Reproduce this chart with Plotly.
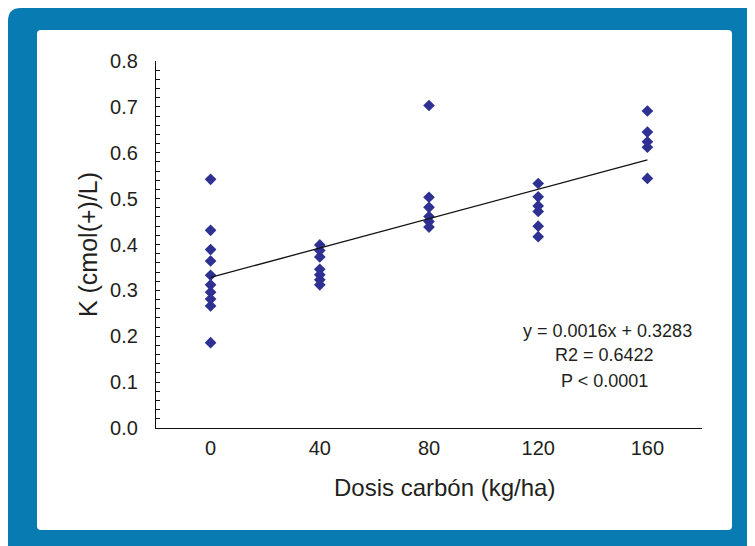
import plotly.graph_objects as go

# ---- data ----
doses = [0, 40, 80, 120, 160]
k_dose_0 = [0.542, 0.431, 0.389, 0.364, 0.333, 0.312, 0.296, 0.281, 0.266, 0.186]
k_dose_40 = [0.399, 0.387, 0.373, 0.346, 0.334, 0.323, 0.312]
k_dose_80 = [0.703, 0.503, 0.481, 0.461, 0.450, 0.438]
k_dose_120 = [0.533, 0.504, 0.484, 0.472, 0.440, 0.417]
k_dose_160 = [0.691, 0.645, 0.624, 0.612, 0.544]
trend_slope = 0.0016
trend_intercept = 0.3283
eq_lines = ["y = 0.0016x + 0.3283", "R2 = 0.6422", "P < 0.0001"]
y_ticks = [0.0, 0.1, 0.2, 0.3, 0.4, 0.5, 0.6, 0.7, 0.8]

groups = [k_dose_0, k_dose_40, k_dose_80, k_dose_120, k_dose_160]
xs, ys = [], []
for d, vals in zip(doses, groups):
    xs += [d] * len(vals)
    ys += vals

trend_x = [doses[0], doses[-1]]
trend_y = [trend_slope * x + trend_intercept for x in trend_x]

# ---- layout helpers (screen pixel -> paper); page body offset is 8px ----
OFF = 8
W, H = 755, 546
L, R, T, B = 148, 61, 53, 126
PW, PH = W - L - R, H - T - B


def px_x(px):
    return (px - OFF - L) / PW


def px_y(py):
    return (H - B - (py - OFF)) / PH


def rounded_rect(x0p, y0p, x1p, y1p, rad):
    x0, x1 = px_x(x0p), px_x(x1p)
    top, bot = px_y(y0p), px_y(y1p)
    rx, ry = rad / PW, rad / PH
    return (f"M {x0+rx},{top} L {x1-rx},{top} Q {x1},{top} {x1},{top-ry} "
            f"L {x1},{bot+ry} Q {x1},{bot} {x1-rx},{bot} "
            f"L {x0+rx},{bot} Q {x0},{bot} {x0},{bot+ry} "
            f"L {x0},{top-ry} Q {x0},{top} {x0+rx},{top} Z")


BLUE = "#097bb3"
TXT = "#231f20"
SANS = "Liberation Sans, Arial, sans-serif"

fig = go.Figure()
fig.add_trace(go.Scatter(
    x=xs, y=ys, mode="markers",
    marker=dict(symbol="diamond", size=9, color="#2e3192"),
    showlegend=False, hoverinfo="x+y",
))
fig.add_trace(go.Scatter(
    x=trend_x, y=trend_y, mode="lines",
    line=dict(color="#111111", width=1.3),
    showlegend=False, hoverinfo="skip",
))

shapes = [
    dict(type="path", xref="paper", yref="paper", layer="below",
         path=rounded_rect(8, 8, 790, 580, 13), fillcolor=BLUE, line=dict(width=0)),
    dict(type="path", xref="paper", yref="paper", layer="below",
         path=rounded_rect(37, 30, 732, 530, 4), fillcolor="white", line=dict(width=0)),
]

annotations = [
    dict(text="Dosis carbón (kg/ha)", x=px_x(444), y=px_y(487), xref="paper", yref="paper",
         showarrow=False, xanchor="center", yanchor="middle",
         font=dict(family=SANS, size=24, color=TXT)),
]
for txt, cx, cy in zip(eq_lines, [607, 604, 604], [331, 355, 381]):
    annotations.append(dict(text=txt, x=px_x(cx), y=px_y(cy), xref="paper", yref="paper",
                            showarrow=False, xanchor="center", yanchor="middle",
                            font=dict(family=SANS, size=18, color=TXT)))

fig.update_layout(
    width=W, height=H,
    margin=dict(l=L, r=R, t=T, b=B, pad=0),
    paper_bgcolor="white",
    plot_bgcolor="rgba(0,0,0,0)",
    shapes=shapes,
    annotations=annotations,
    xaxis=dict(
        range=[-20, 180], tickvals=doses, ticktext=[str(d) for d in doses],
        showgrid=False, zeroline=False, showline=True, linecolor="#111111", linewidth=1.3,
        ticks="", ticklabelstandoff=2,
        tickfont=dict(family=SANS, size=20, color=TXT),
    ),
    yaxis=dict(
        range=[0, 0.8], tickvals=y_ticks, tickformat=".1f",
        showgrid=False, zeroline=False, showline=True, linecolor="#111111", linewidth=1.3,
        ticks="inside", ticklen=4, tickcolor="#111111", tickwidth=1,
        minor=dict(dtick=0.02, ticks="inside", ticklen=4, tickcolor="#111111", tickwidth=1),
        ticklabelstandoff=13,
        tickfont=dict(family=SANS, size=20, color=TXT),
        title=dict(text="K (cmol(+)/L)", standoff=5,
                   font=dict(family=SANS, size=25, color=TXT)),
    ),
)

fig.write_html("out.html")
